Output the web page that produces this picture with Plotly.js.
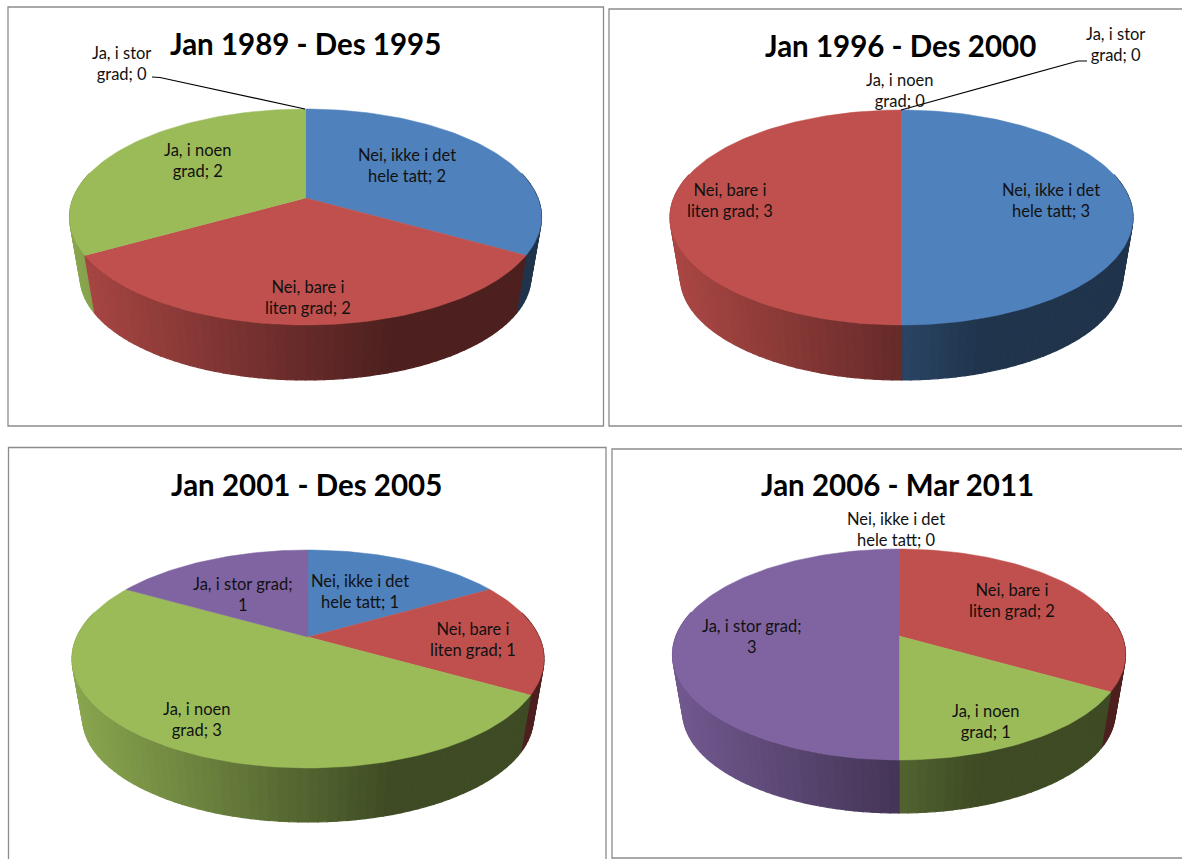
<!DOCTYPE html>
<html>
<head>
<meta charset="utf-8">
<script src="https://cdn.plot.ly/plotly-3.0.1.min.js"></script>
<style>html,body{margin:0;padding:0;background:#fff}#chart{width:1182px;height:859px}</style>
</head>
<body>
<div id="chart"></div>
<script>
// ---- data ----
var titles = ["Jan 1989 - Des 1995", "Jan 1996 - Des 2000", "Jan 2001 - Des 2005", "Jan 2006 - Mar 2011"];
var categories = ["Nei, ikke i det hele tatt", "Nei, bare i liten grad", "Ja, i noen grad", "Ja, i stor grad"];
var values1989 = [2, 2, 2, 0];
var values1996 = [3, 3, 0, 0];
var values2001 = [1, 1, 3, 1];
var values2006 = [0, 2, 1, 3];
var colors = ["#4F81BD", "#C0504D", "#9BBB59", "#8064A2"];
// where each category's label wraps
var wrapNarrow = ["Nei, ikke i det", "Nei, bare i", "Ja, i noen", "Ja, i stor"];
var allValues = [values1989, values1996, values2001, values2006];

// ---- layout constants (pixels of the page) ----
var pies = [
  {cx:305.5, hw:236, top:109, apex:198, bottom:325, wall:380},
  {cx:901.5, hw:231.5, top:110, apex:199, bottom:325, wall:380},
  {cx:308, hw:236, top:550, apex:637, bottom:768, wall:822},
  {cx:899, hw:226.5, top:549, apex:636, bottom:760, wall:813}
];
var frames = [[8,7,603.5,426],[609,9,1195,426],[8.5,447.5,606,870],[612,449,1195,858]];
var titlePos = [[305,43],[900,45],[306,484],[897,484]];
var labelPos = [
  [[407,165],[308,297],[197,160.5],[121,63]],
  [[1051,200],[730,200],[899,90.5],[1115,44.5]],
  [[360,591],[473,639],[196,719],[242,594.5]],
  [[896,529],[1012,600],[985,721],[751,636]]
];
var wideLabel = [[0,0,0,0],[0,0,0,0],[0,0,0,1],[0,0,0,1]];
var leaders = [
  {x:[152,160,305], y:[77,77.5,109]},
  {x:[1087,1078,901], y:[61,61,110]}
];

function shade(hex, f){
  var r=parseInt(hex.substr(1,2),16), g=parseInt(hex.substr(3,2),16), b=parseInt(hex.substr(5,2),16);
  return "rgb("+Math.round(r*f)+","+Math.round(g*f)+","+Math.round(b*f)+")";
}

function projector(p){
  var up=p.apex-p.top, dn=p.bottom-p.apex;
  var k=(dn-up)/(dn+up), A=up*(1+k), B=p.hw*Math.sqrt(1-k*k);
  var bottomScale=0.955;
  var D=(p.wall)-p.apex-bottomScale*dn;
  return {
    top:function(deg){var t=deg*Math.PI/180,u=Math.sin(t),v=Math.cos(t),w=1+k*v;
      return [p.cx+B*u/w, p.apex-A*v/w, v];},
    low:function(deg){var t=deg*Math.PI/180,u=Math.sin(t),v=Math.cos(t),w=1+k*v;
      return [p.cx+bottomScale*B*u/w, p.apex+D-bottomScale*A*v/w, v];}
  };
}

var traces=[], annotations=[], shapes=[];

allValues.forEach(function(vals,pi){
  var p=pies[pi], proj=projector(p);
  var total=vals.reduce(function(a,b){return a+b;},0);
  var spans=[], c=0;
  vals.forEach(function(v,i){
    var a0=c/total*360; c+=v; var a1=c/total*360;
    if(v>0) spans.push({a0:a0,a1:a1,i:i});
  });
  // side wall
  var strips=[], step=2;
  spans.forEach(function(s){
    var n=Math.max(1,Math.ceil((s.a1-s.a0)/step));
    for(var j=0;j<n;j++){
      var a=s.a0+(s.a1-s.a0)*j/n, b=s.a0+(s.a1-s.a0)*(j+1)/n, mid=(a+b)/2;
      var m=proj.top(mid);
      if(m[2]>0.25) continue;
      strips.push({a:a,b:b,v:m[2],x:m[0],i:s.i});
    }
  });
  strips.sort(function(q,r){return r.v-q.v;});
  strips.forEach(function(s){
    var t=(s.x-(p.cx-p.hw))/(2*p.hw);
    var f=Math.max(0.40,0.89-0.72*t);
    var col=shade(colors[s.i],f);
    var ta=proj.top(s.a),tb=proj.top(s.b),lb=proj.low(s.b),la=proj.low(s.a);
    traces.push({type:"scatter",mode:"lines",x:[ta[0],tb[0],lb[0],la[0],ta[0]],y:[ta[1],tb[1],lb[1],la[1],ta[1]],
      fill:"toself",fillcolor:col,line:{color:col,width:1.2},hoverinfo:"skip",showlegend:false});
  });
  // top faces
  spans.forEach(function(s){
    var xs=[p.cx],ys=[p.apex],n=Math.ceil((s.a1-s.a0)/1.5);
    for(var j=0;j<=n;j++){
      var q=proj.top(s.a0+(s.a1-s.a0)*j/n);
      xs.push(q[0]);ys.push(q[1]);
    }
    xs.push(p.cx);ys.push(p.apex);
    traces.push({type:"scatter",mode:"lines",x:xs,y:ys,fill:"toself",fillcolor:colors[s.i],
      line:{color:colors[s.i],width:0.5},hoverinfo:"skip",showlegend:false,name:categories[s.i]});
  });
  // labels
  vals.forEach(function(v,i){
    var head=wrapNarrow[i], rest=categories[i].slice(head.length+1), text;
    if(wideLabel[pi][i]) text=categories[i]+";<br>"+v;
    else text=head+"<br>"+rest+"; "+v;
    annotations.push({xref:"x",yref:"y",x:labelPos[pi][i][0],y:labelPos[pi][i][1],text:text,showarrow:false,
      xanchor:"center",yanchor:"middle",align:"center",font:{family:"Lato, Carlito, sans-serif",size:16.5,color:"#111"}});
  });
  // title
  annotations.push({xref:"x",yref:"y",x:titlePos[pi][0],y:titlePos[pi][1],text:"<b>"+titles[pi]+"</b>",showarrow:false,
    xanchor:"center",yanchor:"middle",font:{family:"Lato, Carlito, sans-serif",size:29.5,color:"#000"}});
  // frame
  var f=frames[pi];
  shapes.push({type:"rect",xref:"x",yref:"y",x0:f[0],y0:f[1],x1:f[2],y1:f[3],line:{color:"#8c8c8c",width:1.3},fillcolor:"rgba(0,0,0,0)",layer:"below"});
});

leaders.forEach(function(l){
  traces.push({type:"scatter",mode:"lines",x:l.x,y:l.y,line:{color:"#000",width:1.2},hoverinfo:"skip",showlegend:false});
});

Plotly.newPlot("chart",traces,{
  width:1182,height:859,margin:{l:0,r:0,t:0,b:0},
  paper_bgcolor:"#fff",plot_bgcolor:"#fff",showlegend:false,
  xaxis:{range:[0,1182],visible:false,fixedrange:true},
  yaxis:{range:[859,0],visible:false,fixedrange:true},
  shapes:shapes,annotations:annotations
},{displayModeBar:false,staticPlot:true});
</script>
</body>
</html>
